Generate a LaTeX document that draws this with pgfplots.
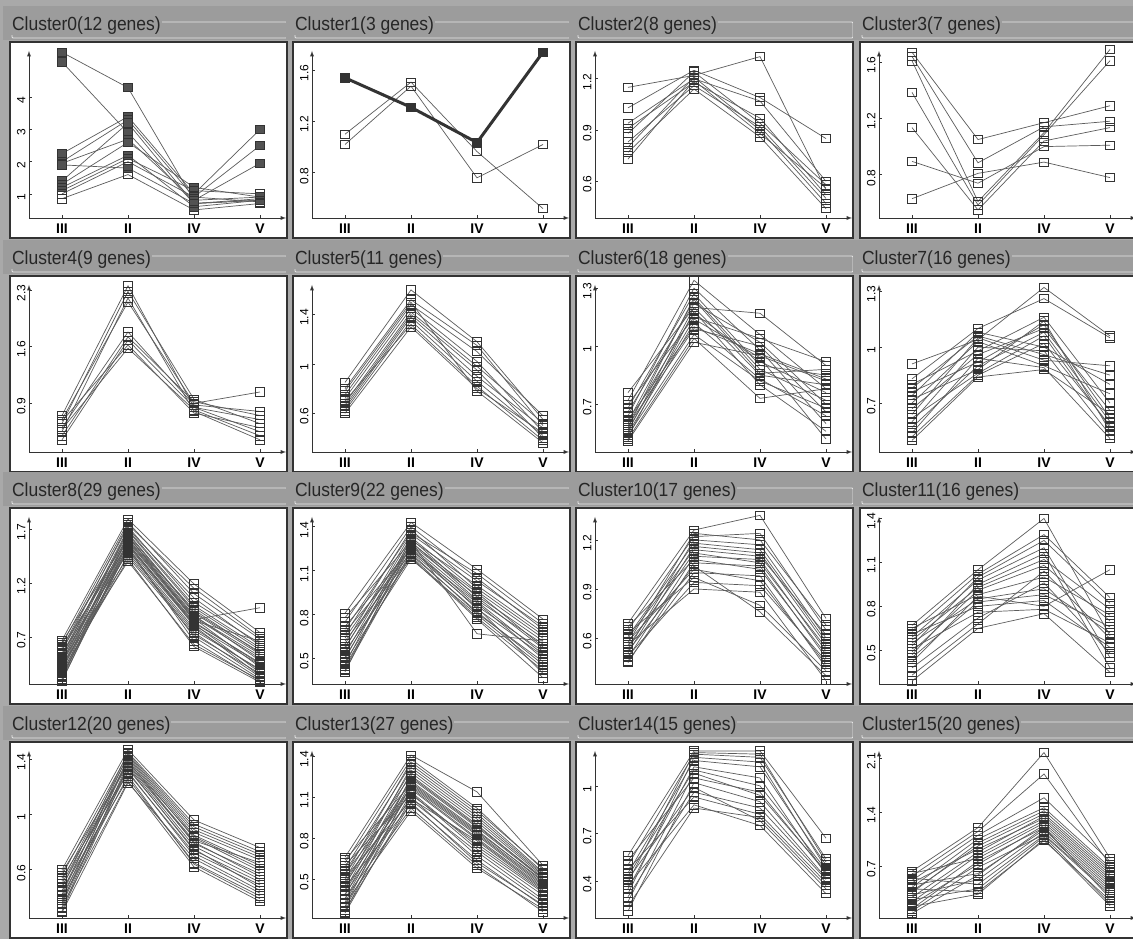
\documentclass[border=0pt]{standalone}
\usepackage{fontspec}
\setmainfont{Liberation Sans}
\usepackage{pgfplots}
\pgfplotsset{compat=1.18}
\definecolor{bgc}{HTML}{A9A9A9}
\definecolor{barc}{HTML}{9C9C9C}
\definecolor{linec}{HTML}{5C5C5C}
\definecolor{markc}{HTML}{333333}
\definecolor{framec}{HTML}{333333}
\newcommand{\g}[4]{\addplot[gene] coordinates {(0,#1)(1,#2)(2,#3)(3,#4)};}
\newcommand{\gf}[4]{\addplot[genef] coordinates {(0,#1)(1,#2)(2,#3)(3,#4)};}
\pgfplotsset{
  gene/.style={draw=linec, line width=0.7pt, mark=square, mark size=4.2pt,
    mark options={draw=markc, fill=white, line width=0.75pt, solid}},
  genef/.style={draw=linec, line width=0.7pt, mark=square*, mark size=4.2pt,
    mark options={draw=markc, fill=markc!85, line width=0.75pt, solid}},
  panel/.style={scale only axis, width=257pt, height=167pt, anchor=south west,
    axis lines=left, xmin=-0.5, xmax=3.394, xtick={0,1,2,3},
    xticklabels={III,II,IV,V}, clip=false,
    axis line style={framec, line width=0.9pt, -latex},
    tick style={framec, line width=0.7pt}, major tick length=3pt, tick align=inside,
    xticklabel style={font=\fontsize{14}{14}\selectfont\bfseries, yshift=-2pt},
    yticklabel style={font=\fontsize{12}{12}\selectfont, rotate=90, anchor=south, xshift=-3pt},
    /pgf/number format/assume math mode=true, scaled y ticks=false},
}
\begin{document}
\begin{tikzpicture}[x=1pt,y=1pt]
\fill[bgc] (0,0) rectangle (1133,939);
\foreach \ox/\oy/\t in {29/721/Cluster0(12 genes),312/721/Cluster1(3 genes),595/721/Cluster2(8 genes),879/721/Cluster3(7 genes),
  29/487/Cluster4(9 genes),312/487/Cluster5(11 genes),595/487/Cluster6(18 genes),879/487/Cluster7(16 genes),
  29/255/Cluster8(29 genes),312/255/Cluster9(22 genes),595/255/Cluster10(17 genes),879/255/Cluster11(16 genes),
  29/21/Cluster12(20 genes),312/21/Cluster13(27 genes),595/21/Cluster14(15 genes),879/21/Cluster15(20 genes)}{
  \fill[barc] (\ox-26,\oy+178) rectangle (\ox+262,\oy+212);
  \draw[white!75!barc, line width=0.8pt, rounded corners=1pt] (\ox-17,\oy+180) rectangle (\ox+258,\oy+196);
  \node[anchor=base west, fill=barc, inner xsep=1pt, inner ysep=0pt, text=black!85, xscale=0.92,
    font=\fontsize{19}{22}\selectfont] at (\ox-18,\oy+187) {\t};
  \fill[white, draw=framec, line width=1.2pt] (\ox-19,\oy-20) rectangle (\ox+258,\oy+176);
}
% Cluster0
\begin{axis}[panel, at={(29pt,721pt)}, ymin=0.25, ymax=5.44, ytick={1,2,3,4}]
\gf{5.4}{4.3}{0.8}{0.9}
\gf{5.1}{2.9}{0.7}{0.8}
\gf{2.25}{3.4}{1.0}{3.0}
\gf{2.0}{3.3}{0.9}{2.5}
\gf{1.95}{2.7}{0.8}{1.95}
\gf{1.4}{3.2}{0.7}{0.85}
\gf{1.3}{2.6}{1.2}{0.9}
\gf{1.2}{2.2}{0.6}{0.8}
\g{1.0}{2.0}{0.9}{0.75}
\gf{1.9}{1.8}{0.7}{0.8}
\g{0.85}{1.6}{0.5}{0.7}
\g{1.1}{2.1}{1.1}{1.0}
\end{axis}
% Cluster1
\begin{axis}[panel, at={(312pt,721pt)}, ymin=0.447, ymax=1.749, ytick={0.8,1.2,1.6}]
\g{1.10}{1.506}{0.965}{0.52}
\g{1.02}{1.475}{0.76}{1.02}
\addplot[draw=markc, line width=3pt, mark=square*, mark size=4.2pt, mark options={draw=markc, fill=markc, line width=0.75pt, solid}] coordinates {(0,1.54)(1,1.31)(2,1.035)(3,1.74)};
\end{axis}
% Cluster2
\begin{axis}[panel, at={(595pt,721pt)}, ymin=0.385, ymax=1.363, ytick={0.6,0.9,1.2}]
\g{1.15}{1.22}{1.33}{0.55}
\g{1.03}{1.25}{1.09}{0.85}
\g{0.94}{1.20}{1.07}{0.60}
\g{0.91}{1.18}{0.97}{0.52}
\g{0.88}{1.24}{0.94}{0.58}
\g{0.83}{1.16}{0.92}{0.50}
\g{0.80}{1.21}{0.90}{0.47}
\g{0.77}{1.14}{0.86}{0.44}
\g{0.73}{1.19}{0.88}{0.56}
\end{axis}
% Cluster3
\begin{axis}[panel, at={(879pt,721pt)}, ymin=0.493, ymax=1.679, ytick={0.8,1.2,1.6}]
\g{1.67}{1.05}{1.17}{1.29}
\g{1.64}{0.885}{1.14}{1.18}
\g{1.61}{0.61}{1.10}{1.69}
\g{1.385}{0.585}{1.085}{1.61}
\g{1.135}{0.55}{1.04}{1.135}
\g{0.895}{0.74}{1.0}{1.01}
\g{0.63}{0.81}{0.89}{0.78}
\end{axis}
% Cluster4
\begin{axis}[panel, at={(29pt,487pt)}, ymin=0.3, ymax=2.36, ytick={0.9,1.6,2.3}]
\g{0.75}{2.35}{0.85}{0.55}
\g{0.65}{2.28}{0.95}{0.65}
\g{0.55}{2.20}{0.80}{0.45}
\g{0.70}{2.15}{0.90}{1.04}
\g{0.60}{1.78}{0.88}{0.80}
\g{0.50}{1.72}{0.92}{0.75}
\g{0.45}{1.68}{0.85}{0.70}
\g{0.68}{1.62}{0.78}{0.60}
\g{0.58}{1.58}{0.82}{0.50}
\end{axis}
% Cluster5
\begin{axis}[panel, at={(312pt,487pt)}, ymin=0.286, ymax=1.64, ytick={0.6,1,1.4}]
\g{0.85}{1.60}{1.18}{0.55}
\g{0.80}{1.52}{1.15}{0.50}
\g{0.75}{1.48}{1.10}{0.58}
\g{0.72}{1.45}{1.02}{0.45}
\g{0.68}{1.42}{0.98}{0.52}
\g{0.66}{1.40}{0.95}{0.40}
\g{0.64}{1.38}{0.90}{0.48}
\g{0.62}{1.35}{0.86}{0.42}
\g{0.70}{1.32}{0.82}{0.38}
\g{0.60}{1.30}{0.80}{0.44}
\g{0.78}{1.50}{0.78}{0.36}
\end{axis}
% Cluster6
\begin{axis}[panel, at={(595pt,487pt)}, ymin=0.453, ymax=1.316, ytick={0.7,1,1.3}]
\g{0.76}{1.20}{1.17}{0.90}
\g{0.72}{1.34}{1.06}{0.78}
\g{0.70}{1.15}{1.04}{0.92}
\g{0.68}{1.27}{0.90}{0.85}
\g{0.66}{1.22}{1.02}{0.70}
\g{0.64}{1.30}{0.98}{0.60}
\g{0.62}{1.10}{0.96}{0.83}
\g{0.61}{1.24}{0.86}{0.88}
\g{0.60}{1.17}{0.92}{0.76}
\g{0.59}{1.09}{1.00}{0.66}
\g{0.58}{1.25}{0.88}{0.72}
\g{0.57}{1.14}{0.94}{0.52}
\g{0.56}{1.20}{0.85}{0.80}
\g{0.55}{1.12}{0.83}{0.64}
\g{0.54}{1.06}{0.82}{0.68}
\g{0.53}{1.18}{0.80}{0.56}
\g{0.52}{1.04}{0.73}{0.78}
\g{0.51}{1.02}{0.95}{0.82}
\end{axis}
% Cluster7
\begin{axis}[panel, at={(879pt,487pt)}, ymin=0.438, ymax=1.333, ytick={0.7,1,1.3}]
\g{0.91}{1.04}{1.32}{1.06}
\g{0.83}{1.10}{1.26}{1.05}
\g{0.80}{0.98}{1.16}{0.70}
\g{0.78}{1.06}{0.96}{0.85}
\g{0.76}{0.92}{1.12}{0.62}
\g{0.74}{1.08}{1.00}{0.80}
\g{0.72}{0.88}{1.14}{0.55}
\g{0.70}{1.03}{0.90}{0.75}
\g{0.67}{0.96}{1.10}{0.66}
\g{0.64}{1.05}{0.93}{0.90}
\g{0.62}{0.86}{1.06}{0.57}
\g{0.60}{1.00}{0.98}{0.53}
\g{0.57}{0.90}{1.08}{0.60}
\g{0.54}{0.94}{0.89}{0.51}
\g{0.52}{0.85}{1.02}{0.58}
\g{0.50}{0.84}{0.88}{0.64}
\end{axis}
% Cluster8
\begin{axis}[panel, at={(29pt,255pt)}, ymin=0.264, ymax=1.81, ytick={0.7,1.2,1.7}]
\g{0.67}{1.79}{1.19}{0.74}
\g{0.65}{1.62}{0.95}{0.55}
\g{0.63}{1.76}{1.10}{0.68}
\g{0.61}{1.55}{0.83}{0.46}
\g{0.60}{1.72}{1.02}{0.64}
\g{0.58}{1.60}{0.88}{0.50}
\g{0.57}{1.74}{1.15}{0.70}
\g{0.55}{1.48}{0.76}{0.40}
\g{0.54}{1.66}{0.93}{0.56}
\g{0.52}{1.70}{1.06}{0.62}
\g{0.51}{1.52}{0.81}{0.44}
\g{0.50}{1.68}{0.97}{0.58}
\g{0.48}{1.58}{0.86}{0.97}
\g{0.47}{1.44}{0.72}{0.36}
\g{0.46}{1.69}{0.99}{0.60}
\g{0.45}{1.61}{0.89}{0.52}
\g{0.44}{1.40}{0.63}{0.30}
\g{0.42}{1.65}{0.92}{0.54}
\g{0.41}{1.56}{0.84}{0.45}
\g{0.40}{1.50}{0.78}{0.39}
\g{0.39}{1.63}{0.90}{0.48}
\g{0.38}{1.42}{0.61}{0.28}
\g{0.36}{1.59}{0.87}{0.42}
\g{0.35}{1.46}{0.74}{0.33}
\g{0.34}{1.54}{0.82}{0.37}
\g{0.33}{1.51}{0.70}{0.31}
\g{0.31}{1.64}{0.85}{0.66}
\g{0.30}{1.53}{0.66}{0.29}
\g{0.29}{1.57}{0.80}{0.34}
\end{axis}
% Cluster9
\begin{axis}[panel, at={(312pt,255pt)}, ymin=0.327, ymax=1.467, ytick={0.5,0.8,1.1,1.4}]
\g{0.81}{1.43}{1.11}{0.77}
\g{0.78}{1.30}{0.90}{0.60}
\g{0.75}{1.40}{1.05}{0.70}
\g{0.72}{1.25}{0.84}{0.52}
\g{0.70}{1.36}{1.08}{0.74}
\g{0.68}{1.22}{0.81}{0.48}
\g{0.66}{1.38}{0.98}{0.66}
\g{0.64}{1.28}{0.93}{0.62}
\g{0.62}{1.20}{0.78}{0.42}
\g{0.60}{1.35}{1.03}{0.72}
\g{0.58}{1.26}{0.86}{0.55}
\g{0.57}{1.33}{0.96}{0.64}
\g{0.55}{1.19}{0.77}{0.37}
\g{0.53}{1.31}{1.00}{0.68}
\g{0.51}{1.24}{0.88}{0.50}
\g{0.50}{1.29}{0.95}{0.58}
\g{0.48}{1.18}{0.80}{0.44}
\g{0.46}{1.32}{0.92}{0.57}
\g{0.45}{1.21}{0.82}{0.46}
\g{0.43}{1.27}{0.89}{0.53}
\g{0.42}{1.23}{0.85}{0.40}
\g{0.41}{1.30}{0.67}{0.62}
\end{axis}
% Cluster10
\begin{axis}[panel, at={(595pt,255pt)}, ymin=0.319, ymax=1.34, ytick={0.6,0.9,1.2}]
\g{0.69}{1.26}{1.35}{0.72}
\g{0.67}{1.08}{1.02}{0.50}
\g{0.65}{1.22}{1.24}{0.65}
\g{0.63}{0.97}{0.80}{0.40}
\g{0.61}{1.18}{1.14}{0.58}
\g{0.60}{1.14}{1.10}{0.62}
\g{0.58}{1.02}{0.95}{0.44}
\g{0.57}{1.24}{1.20}{0.68}
\g{0.56}{0.90}{0.88}{0.34}
\g{0.55}{1.12}{1.06}{0.54}
\g{0.53}{1.20}{1.17}{0.60}
\g{0.52}{1.04}{0.76}{0.37}
\g{0.51}{1.16}{1.12}{0.56}
\g{0.49}{0.94}{0.92}{0.46}
\g{0.48}{1.10}{1.08}{0.52}
\g{0.46}{1.00}{0.98}{0.42}
\g{0.45}{1.06}{1.04}{0.48}
\end{axis}
% Cluster11
\begin{axis}[panel, at={(879pt,255pt)}, ymin=0.27, ymax=1.41, ytick={0.5,0.8,1.1,1.4}]
\g{0.67}{1.05}{1.40}{0.60}
\g{0.65}{0.88}{1.00}{0.74}
\g{0.63}{1.02}{1.29}{0.86}
\g{0.61}{0.80}{0.84}{0.52}
\g{0.59}{0.98}{1.20}{0.45}
\g{0.57}{0.93}{1.12}{0.78}
\g{0.55}{0.85}{0.92}{0.62}
\g{0.53}{1.00}{1.25}{0.82}
\g{0.51}{0.76}{0.78}{0.55}
\g{0.49}{0.91}{1.08}{0.70}
\g{0.47}{0.95}{1.16}{0.38}
\g{0.45}{0.83}{0.88}{0.66}
\g{0.42}{0.87}{0.80}{1.05}
\g{0.38}{0.72}{0.96}{0.48}
\g{0.33}{0.68}{1.04}{0.58}
\g{0.29}{0.65}{0.75}{0.35}
\end{axis}
% Cluster12
\begin{axis}[panel, at={(29pt,21pt)}, ymin=0.25, ymax=1.46, ytick={0.6,1,1.4}]
\g{0.60}{1.47}{0.96}{0.76}
\g{0.58}{1.36}{0.80}{0.55}
\g{0.56}{1.44}{0.91}{0.71}
\g{0.54}{1.30}{0.72}{0.49}
\g{0.52}{1.42}{0.87}{0.67}
\g{0.50}{1.38}{0.84}{0.61}
\g{0.48}{1.33}{0.75}{0.47}
\g{0.47}{1.45}{0.93}{0.73}
\g{0.45}{1.26}{0.65}{0.41}
\g{0.44}{1.40}{0.83}{0.59}
\g{0.42}{1.43}{0.89}{0.69}
\g{0.41}{1.31}{0.70}{0.45}
\g{0.39}{1.39}{0.79}{0.57}
\g{0.38}{1.28}{0.64}{0.39}
\g{0.36}{1.41}{0.85}{0.63}
\g{0.35}{1.35}{0.77}{0.53}
\g{0.33}{1.24}{0.62}{0.37}
\g{0.32}{1.37}{0.81}{0.65}
\g{0.30}{1.34}{0.74}{0.51}
\g{0.29}{1.23}{0.68}{0.43}
\end{axis}
% Cluster13
\begin{axis}[panel, at={(312pt,21pt)}, ymin=0.214, ymax=1.44, ytick={0.5,0.8,1.1,1.4}]
\g{0.66}{1.41}{1.14}{0.60}
\g{0.64}{1.20}{0.84}{0.47}
\g{0.62}{1.38}{1.02}{0.57}
\g{0.60}{1.12}{0.76}{0.41}
\g{0.58}{1.34}{0.98}{0.55}
\g{0.56}{1.26}{0.90}{0.50}
\g{0.54}{1.17}{0.80}{0.44}
\g{0.53}{1.36}{1.00}{0.58}
\g{0.51}{1.08}{0.70}{0.35}
\g{0.50}{1.30}{0.94}{0.53}
\g{0.48}{1.22}{0.86}{0.48}
\g{0.47}{1.14}{0.74}{0.40}
\g{0.45}{1.32}{0.96}{0.54}
\g{0.44}{1.05}{0.64}{0.30}
\g{0.42}{1.28}{0.92}{0.52}
\g{0.41}{1.18}{0.82}{0.45}
\g{0.39}{1.10}{0.67}{0.33}
\g{0.38}{1.24}{0.88}{0.50}
\g{0.36}{1.02}{0.60}{0.26}
\g{0.35}{1.21}{0.85}{0.49}
\g{0.33}{1.16}{0.79}{0.43}
\g{0.32}{1.00}{0.58}{0.28}
\g{0.30}{1.25}{0.89}{0.51}
\g{0.29}{1.13}{0.72}{0.38}
\g{0.27}{1.06}{0.62}{0.31}
\g{0.26}{1.19}{0.83}{0.46}
\g{0.25}{1.09}{0.78}{0.42}
\end{axis}
% Cluster14
\begin{axis}[panel, at={(595pt,21pt)}, ymin=0.166, ymax=1.22, ytick={0.4,0.7,1}]
\g{0.56}{1.22}{1.22}{0.67}
\g{0.53}{1.05}{0.96}{0.45}
\g{0.50}{1.20}{1.18}{0.54}
\g{0.47}{0.93}{0.82}{0.39}
\g{0.45}{1.16}{1.12}{0.50}
\g{0.43}{1.10}{1.00}{0.47}
\g{0.41}{0.99}{0.78}{0.35}
\g{0.39}{1.21}{1.20}{0.52}
\g{0.37}{0.88}{0.75}{0.32}
\g{0.35}{1.12}{1.05}{0.44}
\g{0.32}{1.18}{1.15}{0.48}
\g{0.30}{0.96}{0.86}{0.41}
\g{0.27}{1.08}{0.94}{0.46}
\g{0.24}{0.86}{0.80}{0.37}
\g{0.21}{1.02}{0.90}{0.42}
\end{axis}
% Cluster15
\begin{axis}[panel, at={(879pt,21pt)}, ymin=0.02, ymax=2.2, ytick={0.7,1.4,2.1}]
\g{0.63}{1.20}{2.18}{0.80}
\g{0.60}{0.80}{1.26}{0.50}
\g{0.57}{1.15}{1.90}{0.72}
\g{0.54}{0.46}{1.10}{0.32}
\g{0.51}{1.10}{1.59}{0.76}
\g{0.48}{0.92}{1.32}{0.56}
\g{0.45}{0.60}{1.17}{0.41}
\g{0.42}{1.05}{1.46}{0.68}
\g{0.40}{0.36}{1.03}{0.25}
\g{0.37}{0.96}{1.38}{0.62}
\g{0.35}{1.00}{1.42}{0.65}
\g{0.32}{0.52}{1.14}{0.38}
\g{0.29}{0.88}{1.35}{0.59}
\g{0.26}{0.40}{1.08}{0.21}
\g{0.23}{0.84}{1.29}{0.53}
\g{0.20}{0.72}{1.23}{0.47}
\g{0.17}{0.33}{1.05}{0.18}
\g{0.14}{0.76}{1.20}{0.44}
\g{0.11}{0.68}{1.11}{0.35}
\g{0.08}{0.58}{1.20}{0.28}
\end{axis}
\pgfresetboundingbox
\path (0,0) rectangle (1133,939);
\end{tikzpicture}
\end{document}
